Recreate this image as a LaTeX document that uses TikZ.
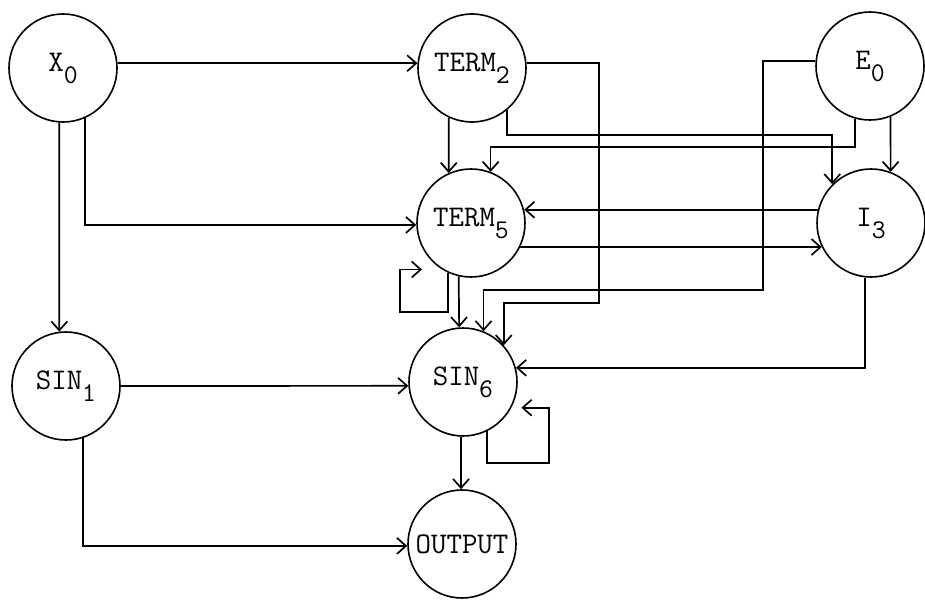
\documentclass[tikz,border=0pt]{standalone}
\usepackage{fontspec}
\usetikzlibrary{arrows.meta}
\newcommand{\sbs}[1]{\raisebox{-12pt}{\fontsize{27}{27}\selectfont #1}}
\begin{document}
\begin{tikzpicture}[x=1pt,y=-1pt,
  nd/.style={circle,draw,line width=1.6pt,minimum size=108pt,inner sep=0pt,font=\ttfamily\fontsize{30}{30}\selectfont},
  arr/.style={line width=1.7pt,-{Straight Barb[length=9pt,width=16pt]}}]
\useasboundingbox (0,0) rectangle (925,599);
\node[nd] (X0) at (63,68) {X\sbs{0}};
\node[nd] (T2) at (472,68) {TERM\sbs{2}};
\node[nd] (E0) at (870,66) {E\sbs{0}};
\node[nd] (T5) at (471,223) {TERM\sbs{5}};
\node[nd] (I3) at (871,223) {I\sbs{3}};
\node[nd] (S1) at (66,386) {SIN\sbs{1}};
\node[nd] (S6) at (463,382) {SIN\sbs{6}};
\node[nd] (OUT) at (462,544) {OUTPUT};
\draw[arr] (X0.5) -- (T2.175);
\draw[arr] (X0.-94) -- (S1.97);
\draw[arr] (X0.-66) |- (T5.182);
\draw[arr] (T2.-115) -- (T5.114);
\draw[arr] (T2.5) -| (599,303) -| (S6.42);
\draw[arr] (T2.-50) |- (I3.135 |- 0,135) -- (I3.135);
\draw[arr] (E0.175) -| (763,290) -| (S6.68);
\draw[arr] (E0.-106) |- (T5.69 |- 0,147) -- (T5.69);
\draw[arr] (E0.-68) -- (I3.69);
\draw[arr] (I3.166) -- (T5.14);
\draw[arr] (T5.-26) -- (I3.206);
\draw[arr,shorten >=20pt] (T5.-115) |- (400,312) |- (T5.238);
\draw[arr] (T5.-103) -- (S6.94);
\draw[arr] (I3.-96) |- (S6.15);
\draw[arr] (S1.0) -- (S6.184);
\draw[arr,shorten >=10pt] (S6.-64) |- (549,463) |- (S6.-28);
\draw[arr] (S6.-92) -- (OUT.91);
\draw[arr] (S1.-72) |- (OUT.182);
\end{tikzpicture}
\end{document}
